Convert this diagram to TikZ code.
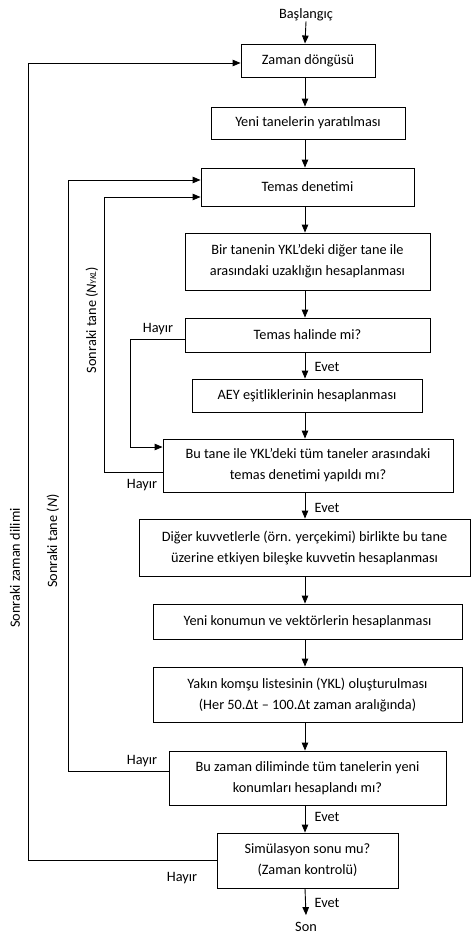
\documentclass[tikz,border=0pt]{standalone}
\usepackage{fontspec}
\setmainfont{Carlito}
\usetikzlibrary{arrows.meta,calc}
\begin{document}
\begin{tikzpicture}[x=1pt,y=-1pt,
  box/.style={draw,line width=0.9pt,align=center,inner sep=2pt,font=\fontsize{14.3}{21}\selectfont},
  lbl/.style={font=\fontsize{14.3}{17}\selectfont,inner sep=0pt},
  conn/.style={line width=0.9pt},
  arr/.style={line width=0.9pt,-{Triangle[length=8pt,width=6.5pt]}}]
\useasboundingbox (0,0) rectangle (471,937);
\node[lbl] (start) at (306,15) {Başlangıç};
\node[box,minimum width=134pt,minimum height=33pt] (zaman) at (308,60.5) {Zaman döngüsü};
\node[box,minimum width=194pt,minimum height=32pt] (yeni) at (308,123) {Yeni tanelerin yaratılması};
\node[box,minimum width=213pt,minimum height=38pt] (temas) at (307.5,187) {Temas denetimi};
\node[box,minimum width=245pt,minimum height=57pt] (bir) at (307.5,261.5) {Bir tanenin YKL’deki diğer tane ile\\arasındaki uzaklığın hesaplanması};
\node[box,minimum width=245pt,minimum height=34pt] (halinde) at (307.5,335) {Temas halinde mi?};
\node[box,minimum width=230pt,minimum height=33pt] (aey) at (307,395.5) {AEY eşitliklerinin hesaplanması};
\node[box,minimum width=290pt,minimum height=53pt] (butane) at (308,465.5) {Bu tane ile YKL’deki tüm taneler arasındaki\\temas denetimi yapıldı mı?};
\node[box,minimum width=331pt,minimum height=57pt] (diger) at (304.5,547.5) {Diğer kuvvetlerle (örn. yerçekimi) birlikte bu tane\\üzerine etkiyen bileşke kuvvetin hesaplanması};
\node[box,minimum width=309pt,minimum height=35pt] (konum) at (307.5,621.5) {Yeni konumun ve vektörlerin hesaplanması};
\node[box,minimum width=309pt,minimum height=55pt] (yakin) at (307.5,694.5) {Yakın komşu listesinin (YKL) oluşturulması\\(Her 50.Δt – 100.Δt zaman aralığında)};
\node[box,minimum width=277pt,minimum height=54pt] (buzaman) at (307.5,778) {Bu zaman diliminde tüm tanelerin yeni\\konumları hesaplandı mı?};
\node[box,minimum width=181pt,minimum height=55pt] (sim) at (307.5,860.5) {Simülasyon sonu mu?\\(Zaman kontrolü)};
\node[lbl] (son) at (306,927) {Son};

% main flow
\coordinate (ax) at (305,0);
\draw[arr] (start.south) -- (ax |- zaman.north);
\draw[arr] (ax |- zaman.south) -- (ax |- yeni.north);
\draw[arr] (ax |- yeni.south) -- (ax |- temas.north);
\draw[arr] (ax |- temas.south) -- (ax |- bir.north);
\draw[arr] (ax |- bir.south) -- (ax |- halinde.north);
\draw[arr] (ax |- halinde.south) -- (ax |- aey.north);
\draw[arr] (ax |- aey.south) -- (ax |- butane.north);
\draw[arr] (ax |- butane.south) -- (ax |- diger.north);
\draw[arr] (ax |- diger.south) -- (ax |- konum.north);
\draw[arr] (ax |- konum.south) -- (ax |- yakin.north);
\draw[arr] (ax |- yakin.south) -- (ax |- buzaman.north);
\draw[arr] (ax |- buzaman.south) -- (ax |- sim.north);
\draw[arr] (ax |- sim.south) -- ($(son.north)+(0,-7)$);

% Evet labels
\node[lbl] (e1) at (327,367) {Evet};
\node[lbl] (e2) at (327,508) {Evet};
\node[lbl] (e3) at (327,817) {Evet};
\node[lbl] (e4) at (327,903) {Evet};

% loop: temas halinde -> Hayir -> butane
\coordinate (l1) at (130,0);
\coordinate (h1) at ($(halinde.west)+(0,4)$);
\coordinate (b1) at ($(butane.west)+(0,-18.5)$);
\draw[arr] (h1) -| (l1 |- b1) -- (b1);
\node[lbl] (hy1) at (158,329) {Hayır};

% loop: butane -> Hayir -> temas (N_YKL)
\coordinate (l2) at (104,0);
\coordinate (h2) at ($(butane.west)+(0,6.5)$);
\coordinate (t2) at ($(temas.west)+(0,10)$);
\draw[arr] (h2) -| (l2 |- t2) -- (t2);
\node[lbl] (hy2) at (142,485) {Hayır};
\node[lbl,rotate=90] (r2) at (92,320) {Sonraki tane (\textit{N}{\fontsize{9}{9}\selectfont\textit{YKL}})};

% loop: buzaman -> Hayir -> temas (N)
\coordinate (l3) at (68,0);
\coordinate (h3) at ($(buzaman.west)+(0,-7)$);
\coordinate (t3) at ($(temas.west)+(0,-7)$);
\draw[arr] (h3) -| (l3 |- t3) -- (t3);
\node[lbl] (hy3) at (142,761) {Hayır};
\node[lbl,rotate=90] (r3) at (53,541) {Sonraki tane (\textit{N})};

% loop: sim -> Hayir -> zaman
\coordinate (l4) at (28,0);
\coordinate (t4) at ($(zaman.west)+(0,2.5)$);
\draw[arr] (sim.west) -| (l4 |- t4) -- (t4);
\node[lbl] (hy4) at (182,878) {Hayır};
\node[lbl,rotate=90] (r4) at (15,568) {Sonraki zaman dilimi};
\end{tikzpicture}
\end{document}
